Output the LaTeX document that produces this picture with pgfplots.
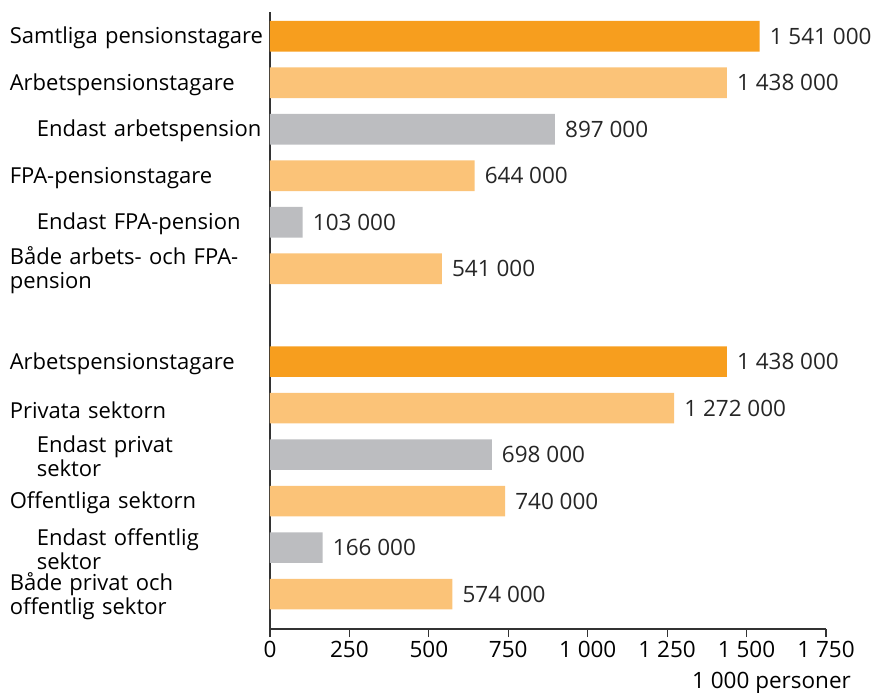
\documentclass[border=0pt]{standalone}
\usepackage{fontspec}
\setmainfont{Open Sans}
\usepackage{pgfplots}
\pgfplotsset{compat=1.18}
\definecolor{dorange}{HTML}{F79E1E}
\definecolor{lorange}{HTML}{FBC378}
\definecolor{lgray}{HTML}{BCBDC0}
\definecolor{axisc}{HTML}{333333}
\newcommand{\lblfont}{\fontsize{22.5}{24}\selectfont}
\newcommand{\catfont}{\fontsize{22}{24}\selectfont\hyphenpenalty=10000\exhyphenpenalty=10000}
\begin{document}
\begin{tikzpicture}
\useasboundingbox (-270pt,-64pt) rectangle (606pt,629pt);
\begin{axis}[
  scale only axis,
  width=556pt, height=617pt,
  xbar, bar width=0.66, bar shift=0pt,
  xmin=0, xmax=1750,
  ymin=-0.52, ymax=12.75,
  y dir=reverse,
  axis x line=bottom, axis y line=left,
  axis line style={draw=axisc, line width=1.3pt, -},
  xtick={0,250,...,1750},
  xticklabels={0,250,500,750,1 000,1 250,1 500,1 750},
  xtick align=outside,
  major tick length=8pt,
  xtick style={draw=axisc, line width=1.1pt},
  ytick={0,1,2,3,4,5,7,8,9,10,11,12},
  yticklabels={
    Samtliga pensionstagare,
    Arbetspensionstagare,
    \hspace*{27pt}Endast arbetspension,
    FPA-pensionstagare,
    \hspace*{27pt}Endast FPA-pension,
    Både arbets- och FPA-\\pension,
    Arbetspensionstagare,
    Privata sektorn,
    \hspace*{27pt}Endast privat\\\hspace*{27pt}sektor,
    Offentliga sektorn,
    \hspace*{27pt}Endast offentlig\\\hspace*{27pt}sektor,
    Både privat och\\offentlig sektor},
  ytick style={draw=none},
  yticklabel style={font=\catfont, text width=262pt, align=left, inner sep=0pt, anchor=east, xshift=6pt, yshift=-2pt},
  xticklabel style={font=\lblfont, inner sep=0pt, yshift=-4pt},
  point meta=explicit symbolic,
  nodes near coords,
  nodes near coords style={font=\lblfont, anchor=west, inner sep=0pt, xshift=10pt, text=black!85},
  clip=false,
]
\addplot[fill=dorange, draw=none] coordinates {(1541,0) [1 541 000] (1438,7) [1 438 000]};
\addplot[fill=lorange, draw=none] coordinates {(1438,1) [1 438 000] (644,3) [644 000] (541,5) [541 000] (1272,8) [1 272 000] (740,10) [740 000] (574,12) [574 000]};
\addplot[fill=lgray, draw=none] coordinates {(897,2) [897 000] (103,4) [103 000] (698,9) [698 000] (166,11) [166 000]};
\end{axis}
\node[anchor=east, inner sep=0pt, font=\lblfont] at (581pt,-54pt) {1 000 personer};
\end{tikzpicture}
\end{document}
